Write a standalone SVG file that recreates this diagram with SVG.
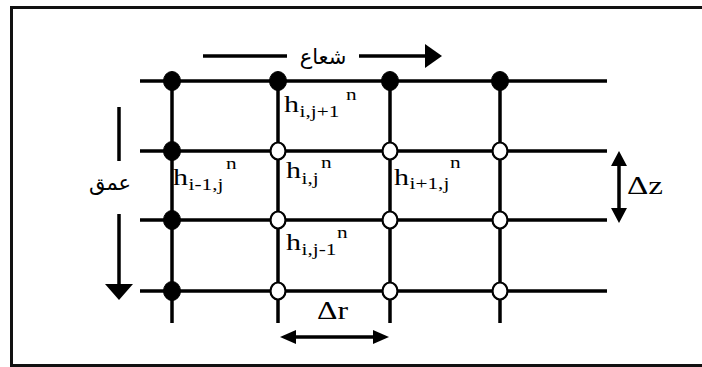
<svg xmlns="http://www.w3.org/2000/svg" width="702" height="367" viewBox="0 0 702 367">
<style>
.grid{stroke:#000;stroke-width:3.5;fill:none}
.arr{stroke:#000;stroke-width:3.5;fill:none}
.head{fill:#000;stroke:none}
.full{fill:#000;stroke:#000;stroke-width:1}
.open{fill:#fff;stroke:#000;stroke-width:2.2}
.h{font-family:"Liberation Serif","Times New Roman",serif;font-size:24px;fill:#000}
.s{font-family:"Liberation Serif","Times New Roman",serif;font-size:17px;fill:#000}
.d{font-family:"Liberation Serif","Times New Roman",serif;font-size:25px;fill:#000}
.ar{font-family:"DejaVu Sans",sans-serif;font-size:21px;fill:#000}
</style>
<rect x="0" y="0" width="702" height="367" fill="#fff"/>
<rect x="11.5" y="7.5" width="702" height="358" fill="none" stroke="#111" stroke-width="3"/>

<g id="connectors">
  <g id="grid-lines">
    <line class="grid" x1="140" y1="81" x2="607" y2="81"/>
    <line class="grid" x1="140" y1="151" x2="607" y2="151"/>
    <line class="grid" x1="140" y1="220" x2="607" y2="220"/>
    <line class="grid" x1="140" y1="291" x2="607" y2="291"/>
    <line class="grid" x1="172" y1="81" x2="172" y2="323"/>
    <line class="grid" x1="278" y1="81" x2="278" y2="323"/>
    <line class="grid" x1="390" y1="81" x2="390" y2="323"/>
    <line class="grid" x1="500" y1="81" x2="500" y2="323"/>
  </g>
  <g id="arrow-radial">
    <line class="arr" x1="203" y1="56" x2="287" y2="56"/>
    <line class="arr" x1="359" y1="56" x2="428" y2="56"/>
    <polygon class="head" points="425,44 442,56 425,68"/>
  </g>
  <g id="arrow-depth">
    <line class="arr" x1="119" y1="107" x2="119" y2="161"/>
    <line class="arr" x1="119" y1="214" x2="119" y2="287"/>
    <polygon class="head" points="105,284 133,284 119,300"/>
  </g>
  <g id="arrow-dz">
    <line class="arr" x1="619" y1="162" x2="619" y2="212"/>
    <polygon class="head" points="619,151 627,166 611,166"/>
    <polygon class="head" points="619,223 627,208 611,208"/>
  </g>
  <g id="arrow-dr">
    <line class="arr" x1="292" y1="337" x2="376" y2="337"/>
    <polygon class="head" points="280,337 296,330 296,344"/>
    <polygon class="head" points="389,337 373,330 373,344"/>
  </g>
</g>

<g id="nodes">
  <g id="n-top"><ellipse class="full" cx="172" cy="81" rx="8.5" ry="9.5"/><ellipse class="full" cx="278" cy="81" rx="8.5" ry="9.5"/><ellipse class="full" cx="390" cy="81" rx="8.5" ry="9.5"/><ellipse class="full" cx="500" cy="81" rx="8.5" ry="9.5"/></g>
  <g id="n-left"><ellipse class="full" cx="172" cy="151" rx="8.5" ry="9.5"/><ellipse class="full" cx="172" cy="220" rx="8.5" ry="9.5"/><ellipse class="full" cx="172" cy="291" rx="8.5" ry="9.5"/></g>
  <g id="n-open">
    <ellipse class="open" cx="278" cy="151" rx="7.5" ry="8.5"/><ellipse class="open" cx="390" cy="151" rx="7.5" ry="8.5"/><ellipse class="open" cx="500" cy="151" rx="7.5" ry="8.5"/>
    <ellipse class="open" cx="278" cy="220" rx="7.5" ry="8.5"/><ellipse class="open" cx="390" cy="220" rx="7.5" ry="8.5"/><ellipse class="open" cx="500" cy="220" rx="7.5" ry="8.5"/>
    <ellipse class="open" cx="278" cy="291" rx="7.5" ry="8.5"/><ellipse class="open" cx="390" cy="291" rx="7.5" ry="8.5"/><ellipse class="open" cx="500" cy="291" rx="7.5" ry="8.5"/>
  </g>
</g>

<g id="label-h-i-jp1" transform="translate(284,112) scale(1.25,1)">
  <text class="h" x="0" y="0">h</text><text class="s" x="12.5" y="5">i,j+1</text><text class="s" x="49.6" y="-12">n</text>
</g>
<g id="label-h-im1-j" transform="translate(173,185) scale(1.25,1)">
  <text class="h" x="0" y="0">h</text><text class="s" x="12.5" y="5">i-1,j</text><text class="s" x="42.4" y="-16">n</text>
</g>
<g id="label-h-i-j" transform="translate(286,178) scale(1.25,1)">
  <text class="h" x="0" y="0">h</text><text class="s" x="12.5" y="6">i,j</text><text class="s" x="28" y="-10">n</text>
</g>
<g id="label-h-ip1-j" transform="translate(394,185) scale(1.25,1)">
  <text class="h" x="0" y="0">h</text><text class="s" x="12.5" y="4">i+1,j</text><text class="s" x="44.8" y="-17">n</text>
</g>
<g id="label-h-i-jm1" transform="translate(286,250) scale(1.25,1)">
  <text class="h" x="0" y="0">h</text><text class="s" x="12.5" y="5">i,j-1</text><text class="s" x="40.8" y="-12">n</text>
</g>

<g id="label-radial"><text class="ar" x="323" y="64" text-anchor="middle">شعاع</text></g>
<g id="label-depth"><text class="ar" x="110" y="190" text-anchor="middle">عمق</text></g>
<g id="label-dz"><text class="d" x="627" y="194" textLength="36" lengthAdjust="spacingAndGlyphs">Δz</text></g>
<g id="label-dr"><text class="d" x="317" y="319" textLength="31" lengthAdjust="spacingAndGlyphs">Δr</text></g>
</svg>
